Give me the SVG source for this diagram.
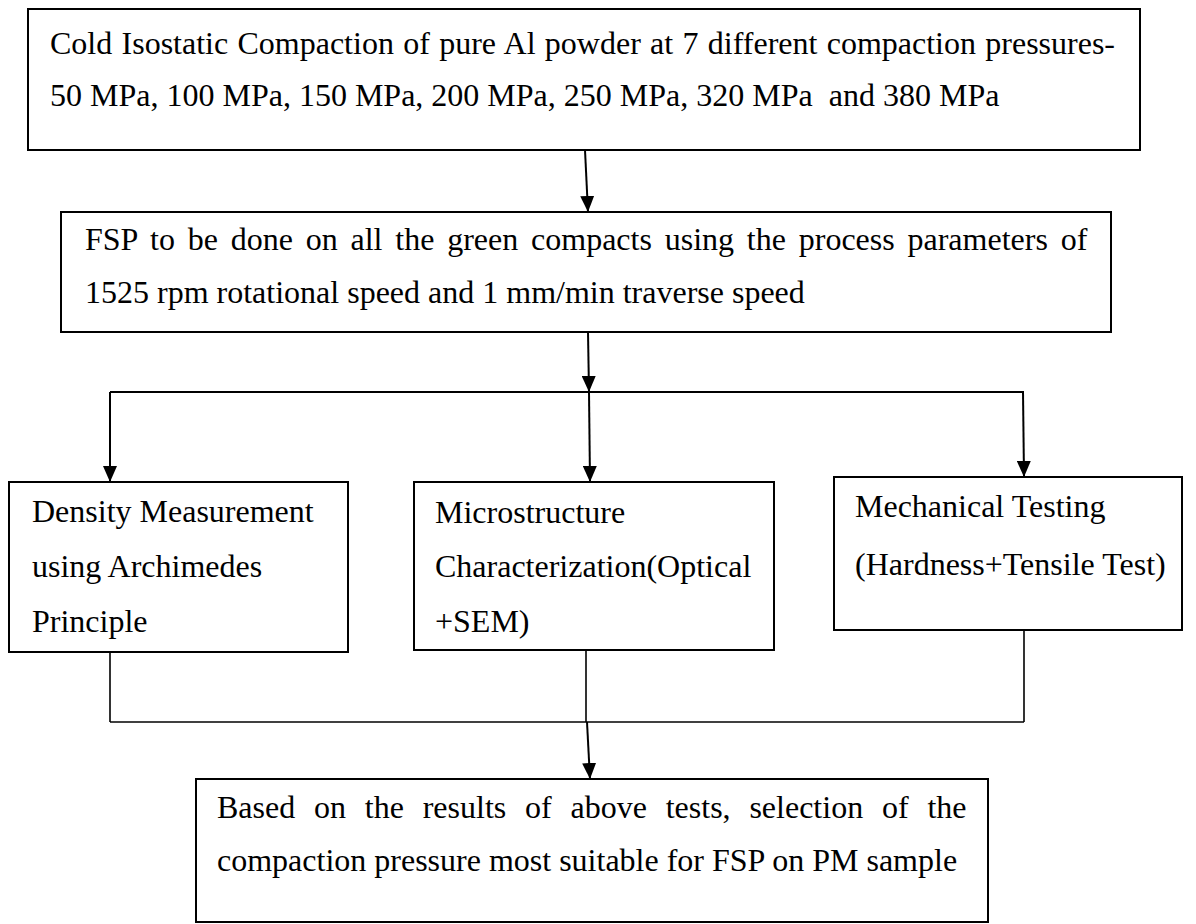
<svg xmlns="http://www.w3.org/2000/svg" width="1196" height="924" viewBox="0 0 1196 924">
<style>
.box{fill:#fff;stroke:#000;stroke-width:2}
.t{font-family:"Liberation Serif","Times New Roman",serif;font-size:32px;fill:#000}
.c{fill:none;stroke:#000;stroke-width:2}
.c2{fill:none;stroke:#000;stroke-width:1.6}
</style>
<defs>
<marker id="ah" markerUnits="userSpaceOnUse" markerWidth="16" markerHeight="14" refX="16" refY="7" orient="auto">
<path d="M0,0 L16,7 L0,14 z" fill="#000"/>
</marker>
</defs>
<rect width="1196" height="924" fill="#fff"/>
<g id="connectors">
<line class="c" x1="585" y1="150" x2="588" y2="212" marker-end="url(#ah)"/>
<line class="c" x1="588" y1="332" x2="589" y2="392" marker-end="url(#ah)"/>
<line class="c" x1="110" y1="392" x2="1024" y2="392"/>
<line class="c" x1="110" y1="392" x2="110" y2="482" marker-end="url(#ah)"/>
<line class="c" x1="589" y1="392" x2="590" y2="482" marker-end="url(#ah)"/>
<line class="c" x1="1023" y1="392" x2="1024" y2="477" marker-end="url(#ah)"/>
<line class="c2" x1="110" y1="652" x2="110" y2="722"/>
<line class="c2" x1="586" y1="650" x2="586" y2="722"/>
<line class="c2" x1="1024" y1="630" x2="1024" y2="722"/>
<line class="c2" x1="110" y1="722" x2="1024" y2="722"/>
<line class="c" x1="587" y1="722" x2="590" y2="779" marker-end="url(#ah)"/>
</g>
<g id="n1">
<rect class="box" x="28" y="9" width="1112" height="141"/>
<text class="t" x="50" y="54" style="word-spacing:1.3px">Cold Isostatic Compaction of pure Al powder at 7 different compaction pressures-</text>
<text class="t" x="50" y="106" xml:space="preserve">50 MPa, 100 MPa, 150 MPa, 200 MPa, 250 MPa, 320 MPa  and 380 MPa</text>
</g>
<g id="n2">
<rect class="box" x="61" y="212" width="1050" height="120"/>
<text class="t" x="85" y="250" style="word-spacing:4.8px">FSP to be done on all the green compacts using the process parameters of</text>
<text class="t" x="85" y="303">1525 rpm rotational speed and 1 mm/min traverse speed</text>
</g>
<g id="n3">
<rect class="box" x="9" y="482" width="339" height="170"/>
<text class="t" x="32" y="522">Density Measurement</text>
<text class="t" x="32" y="577">using Archimedes</text>
<text class="t" x="32" y="632">Principle</text>
</g>
<g id="n4">
<rect class="box" x="414" y="482" width="360" height="168"/>
<text class="t" x="435" y="523">Microstructure</text>
<text class="t" x="435" y="577">Characterization(Optical</text>
<text class="t" x="435" y="632">+SEM)</text>
</g>
<g id="n5">
<rect class="box" x="834" y="477" width="348" height="153"/>
<text class="t" x="855" y="517">Mechanical Testing</text>
<text class="t" x="855" y="575">(Hardness+Tensile Test)</text>
</g>
<g id="n6">
<rect class="box" x="196" y="779" width="792" height="143"/>
<text class="t" x="217" y="818" style="word-spacing:10.8px">Based on the results of above tests, selection of the</text>
<text class="t" x="217" y="871">compaction pressure most suitable for FSP on PM sample</text>
</g>
</svg>
